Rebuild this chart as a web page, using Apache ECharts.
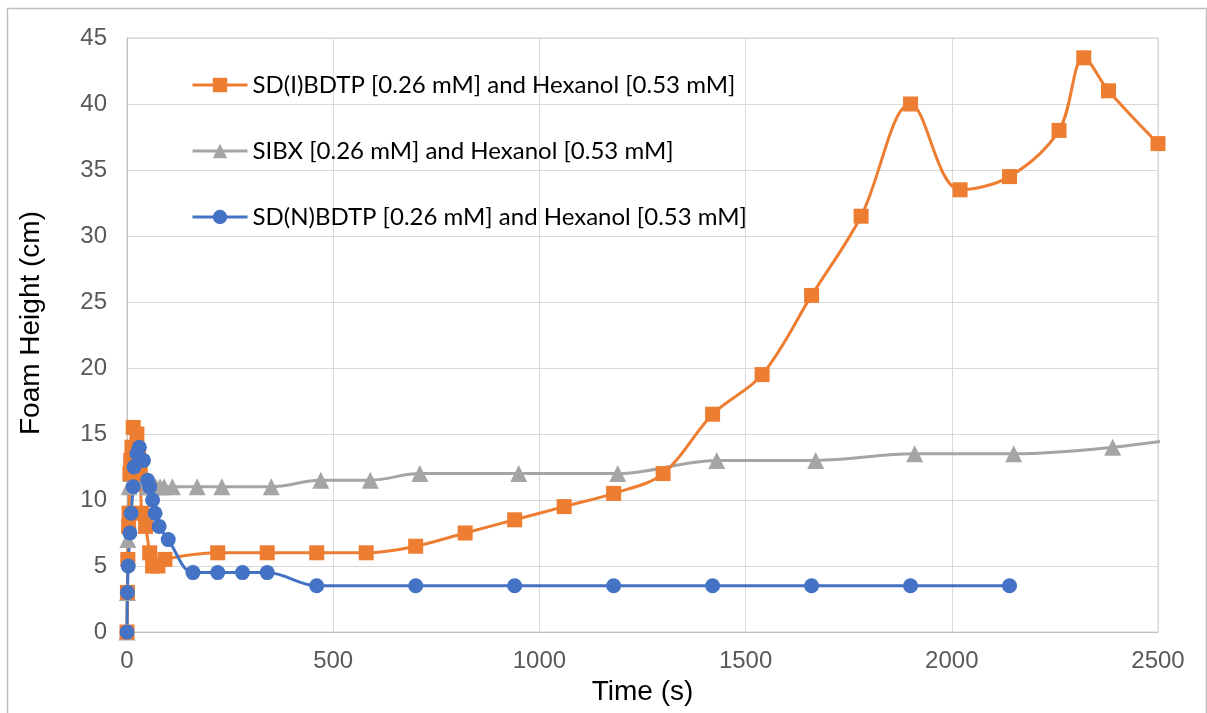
<!DOCTYPE html>
<html>
<head>
<meta charset="utf-8">
<style>
  html, body { margin: 0; padding: 0; background: #fff; }
  #chart { width: 1207px; height: 713px; }
</style>
<script src="https://cdn.jsdelivr.net/npm/echarts@6/dist/echarts.min.js"></script>
</head>
<body>
<div id="chart"></div>
<script>
// Series names
const nameSDI = 'SD(I)BDTP [0.26 mM] and Hexanol [0.53 mM]';
const nameSIBX = 'SIBX [0.26 mM] and Hexanol [0.53 mM]';
const nameSDN = 'SD(N)BDTP [0.26 mM] and Hexanol [0.53 mM]';

// Time (s) and foam height (cm) for each run
const timeSDI = [0, 1, 2, 4, 5, 7, 9, 12, 15, 24, 28, 32, 36, 45, 55, 62, 75, 92, 220, 340, 460, 580, 700, 820, 940, 1060, 1180, 1300, 1420, 1540, 1660, 1780, 1900, 2020, 2140, 2260, 2320, 2380, 2500];
const heightSDI = [0, 3, 5.5, 8, 9, 12, 13, 14, 15.5, 15, 13.5, 12, 9, 8, 6, 5, 5, 5.5, 6, 6, 6, 6, 6.5, 7.5, 8.5, 9.5, 10.5, 12, 16.5, 19.5, 25.5, 31.5, 40, 33.5, 34.5, 38, 43.5, 41, 37];

const timeSIBX = [0, 1, 2, 5, 10, 20, 30, 40, 50, 60, 70, 80, 90, 110, 170, 230, 350, 470, 590, 710, 950, 1190, 1430, 1670, 1910, 2150, 2390, 2630];
const heightSIBX = [0, 3, 7, 11, 12, 12.5, 12.5, 11.5, 11, 11, 11, 11, 11, 11, 11, 11, 11, 11.5, 11.5, 12, 12, 12, 13, 13, 13.5, 13.5, 14, 15];

const timeSDN = [0, 1, 3, 7, 10, 15, 17, 24, 30, 40, 50, 55, 62, 68, 78, 100, 160, 220, 280, 340, 460, 700, 940, 1180, 1420, 1660, 1900, 2140];
const heightSDN = [0, 3, 5, 7.5, 9, 11, 12.5, 13.5, 14, 13, 11.5, 11, 10, 9, 8, 7, 4.5, 4.5, 4.5, 4.5, 3.5, 3.5, 3.5, 3.5, 3.5, 3.5, 3.5, 3.5];

// Axis ticks
const xTicks = { min: 0, max: 2500, interval: 500 };
const yTicks = { min: 0, max: 45, interval: 5 };

const pairs = (xs, ys) => xs.map((x, i) => [x, ys[i]]);

const chart = echarts.init(document.getElementById('chart'), null, { renderer: 'canvas' });

const lineSeries = (name, color, symbol, size, data) => ({
  name: name,
  type: 'line',
  data: data,
  smooth: 0.35,
  symbol: symbol,
  symbolSize: size,
  showAllSymbol: true,
  clip: true,
  lineStyle: { color: color, width: 3 },
  itemStyle: { color: color },
  emphasis: { disabled: true }
});

chart.setOption({
  animation: false,
  backgroundColor: '#ffffff',
  graphic: [{
    type: 'rect',
    left: 5, top: 6,
    shape: { width: 1199, height: 720 },
    style: { fill: 'none', stroke: '#bfbfbf', lineWidth: 1.5 },
    silent: true
  }],
  grid: {
    left: 127, top: 38, right: 49, bottom: 81,
    show: true, borderColor: '#d0d0d0', borderWidth: 1
  },
  legend: {
    orient: 'vertical',
    left: 186, top: 68,
    itemGap: 42,
    itemWidth: 55, itemHeight: 18,
    lineStyle: { width: 3 },
    data: [nameSDI, nameSIBX, nameSDN],
    textStyle: { fontFamily: 'Lato', fontSize: 24, color: '#000000' }
  },
  xAxis: {
    type: 'value',
    min: xTicks.min, max: xTicks.max, interval: xTicks.interval,
    name: 'Time (s)',
    nameLocation: 'middle',
    nameGap: 45,
    nameTextStyle: { fontFamily: 'Liberation Sans', fontSize: 28, color: '#000000' },
    axisLine: { show: true, lineStyle: { color: '#bfbfbf', width: 1 } },
    axisTick: { show: false },
    axisLabel: {
      fontFamily: 'Liberation Sans', fontSize: 24, color: '#595959', margin: 17,
      formatter: v => String(v)
    },
    splitLine: { show: true, lineStyle: { color: '#d9d9d9', width: 1 } }
  },
  yAxis: {
    type: 'value',
    min: yTicks.min, max: yTicks.max, interval: yTicks.interval,
    name: 'Foam Height (cm)',
    nameLocation: 'middle',
    nameGap: 82,
    nameTextStyle: { fontFamily: 'Liberation Sans', fontSize: 28, color: '#000000', padding: [0, 0, 0, 24] },
    axisLine: { show: true, lineStyle: { color: '#bfbfbf', width: 1 } },
    axisTick: { show: false },
    axisLabel: { fontFamily: 'Liberation Sans', fontSize: 24, color: '#595959', margin: 20 },
    splitLine: { show: true, lineStyle: { color: '#d9d9d9', width: 1 } }
  },
  series: [
    lineSeries(nameSIBX, '#a5a5a5', 'triangle', 17, pairs(timeSIBX, heightSIBX)),
    lineSeries(nameSDI, '#ed7d31', 'rect', 15, pairs(timeSDI, heightSDI)),
    lineSeries(nameSDN, '#4472c4', 'circle', 15, pairs(timeSDN, heightSDN))
  ]
});
</script>
</body>
</html>
